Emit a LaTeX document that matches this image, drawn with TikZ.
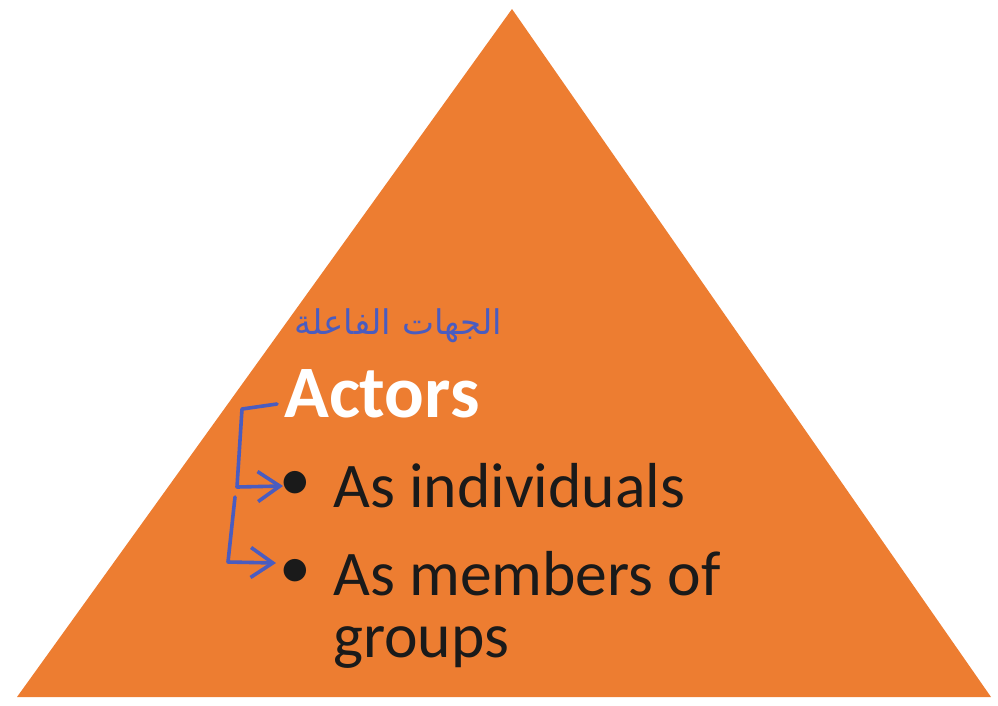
\documentclass[tikz,border=0pt]{standalone}
\usepackage{fontspec}
\setmainfont{Carlito}
\newfontfamily\arabicfont[Script=Arabic]{DejaVu Sans}
\TeXXeTstate=1
\usetikzlibrary{arrows.meta}
\definecolor{pyr}{HTML}{ED7D31}
\definecolor{pen}{HTML}{4A5CC0}
\definecolor{ink}{HTML}{1A1A1A}
\tikzset{
  pyramid/.style={fill=pyr, draw=none},
  penline/.style={draw=pen, line width=3.6pt, line cap=round, line join=round,
    -{Straight Barb[length=22pt,width=30pt,line width=3.6pt]}},
  title/.style={text=white, font=\fontsize{74}{74}\selectfont\bfseries, inner sep=0pt, anchor=base west},
  item/.style={text=ink, font=\fontsize{63.6}{62}\selectfont, inner sep=0pt, anchor=base west, align=left},
  bul/.style={text=ink, font=\fontsize{63.6}{62}\selectfont, inner sep=0pt, anchor=center},
  note/.style={text=pen, font=\arabicfont\fontsize{34}{34}\selectfont, inner sep=0pt, anchor=center}
}
\begin{document}
\begin{tikzpicture}[x=1pt,y=-1pt]
\useasboundingbox (0,0) rectangle (998,705);
\coordinate (apex) at (512,9);
\coordinate (bl) at (17,697);
\coordinate (br) at (991,697);
\fill[pyramid] (apex) -- (br) -- (bl) -- cycle;

\node[title] (actors) at (284,417) {Actors};
\node[bul] (b1) at (295,486) {•};
\node[item] (t1) at (333,507) {As individuals};
\node[bul] (b2) at (295,574) {•};
\node[item] (t2) at (333,657) {As members of\\groups};
\node[note] (ar) at (398,326) {\beginR الجهات الفاعلة\endR};

\coordinate (s1) at (277,404);
\coordinate (e1) at (283,486);
\coordinate (s2) at (235,497);
\coordinate (e2) at (276,563);
\draw[penline] (s1) -- (242,409) -- (237,487) -- (e1);
\draw[penline] (s2) -- (228,562) -- (e2);
\end{tikzpicture}
\end{document}
